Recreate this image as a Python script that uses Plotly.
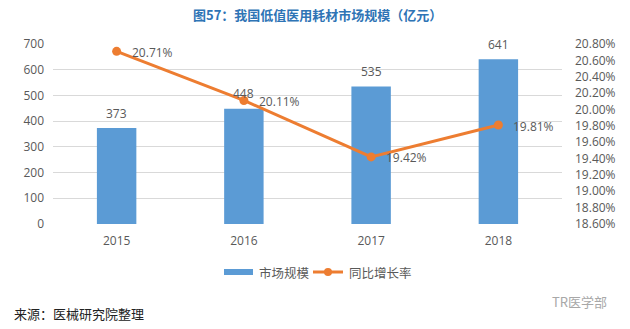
import plotly.graph_objects as go

years = ["2015", "2016", "2017", "2018"]
market_size = [373, 448, 535, 641]          # 亿元
growth_rate = [20.71, 20.11, 19.42, 19.81]  # %

left_ticks = [0, 100, 200, 300, 400, 500, 600, 700]
right_ticks = [18.6, 18.8, 19.0, 19.2, 19.4, 19.6, 19.8, 20.0, 20.2, 20.4, 20.6, 20.8]

BAR = "#5B9BD5"
LINE = "#ED7D31"
TXT = "#595959"
NUM_FONT = "Open Sans, Liberation Sans, sans-serif"
CJK_FONT = "Noto Sans CJK SC, sans-serif"

W, H = 630, 329
ML, MR, MT, MB = 53, 68, 44, 105
plot_w = W - ML - MR
plot_h = H - MT - MB


def px_to_paper(px, py):
    return (px - ML) / plot_w, (H - MB - py) / plot_h


xs = [int(y) for y in years]

fig = go.Figure()
fig.add_trace(go.Bar(
    x=xs, y=market_size, name="市场规模",
    marker=dict(color=BAR, line=dict(width=0)),
    width=0.31, yaxis="y",
))
fig.add_trace(go.Scatter(
    x=xs, y=growth_rate, name="同比增长率",
    mode="lines+markers",
    line=dict(color=LINE, width=3),
    marker=dict(color=LINE, size=9),
    yaxis="y2",
))

anns = []
for x, v in zip(xs, market_size):
    anns.append(dict(
        x=x, y=v, xref="x", yref="y", text=str(v), showarrow=False,
        yshift=15, font=dict(family=NUM_FONT, size=12, color=TXT),
    ))
for x, v in zip(xs, growth_rate):
    anns.append(dict(
        x=x, y=v, xref="x", yref="y2", text=f"{v:.2f}%", showarrow=False,
        xanchor="left", xshift=13, yshift=-1,
        font=dict(family=NUM_FONT, size=12, color=TXT),
    ))

# title
tx, ty = px_to_paper(317, 15)
anns.append(dict(x=tx, y=ty, xref="paper", yref="paper", xanchor="center", yanchor="middle",
                 text="<b>图57：我国低值医用耗材市场规模（亿元）</b>", showarrow=False,
                 font=dict(family=CJK_FONT, size=13, color="#2E74B5")))
# source note
sx, sy = px_to_paper(12, 313)
anns.append(dict(x=sx, y=sy, xref="paper", yref="paper", xanchor="left", yanchor="middle",
                 text="来源：医械研究院整理", showarrow=False,
                 font=dict(family=CJK_FONT, size=13, color="#222222")))
# watermark
wx, wy = px_to_paper(609, 301)
anns.append(dict(x=wx, y=wy, xref="paper", yref="paper", xanchor="right", yanchor="middle",
                 text="TR医学部", showarrow=False,
                 font=dict(family=CJK_FONT, size=13, color="#A8A8A8")))

# custom legend
shapes = []
x0, y0 = px_to_paper(224, 269)
x1, y1 = px_to_paper(253, 275)
shapes.append(dict(type="rect", xref="paper", yref="paper", x0=x0, x1=x1, y0=y0, y1=y1,
                   fillcolor=BAR, line=dict(width=0)))
lx0, ly = px_to_paper(313, 272)
lx1, _ = px_to_paper(343, 272)
shapes.append(dict(type="line", xref="paper", yref="paper", x0=lx0, x1=lx1, y0=ly, y1=ly,
                   line=dict(color=LINE, width=3)))
cx0, cy0 = px_to_paper(324, 268)
cx1, cy1 = px_to_paper(332, 276)
shapes.append(dict(type="circle", xref="paper", yref="paper", x0=cx0, x1=cx1, y0=cy0, y1=cy1,
                   fillcolor=LINE, line=dict(width=0)))
t1x, t1y = px_to_paper(257, 272)
anns.append(dict(x=t1x, y=t1y, xref="paper", yref="paper", xanchor="left", yanchor="middle",
                 text="市场规模", showarrow=False,
                 font=dict(family=CJK_FONT, size=12.5, color=TXT)))
t2x, t2y = px_to_paper(347, 272)
anns.append(dict(x=t2x, y=t2y, xref="paper", yref="paper", xanchor="left", yanchor="middle",
                 text="同比增长率", showarrow=False,
                 font=dict(family=CJK_FONT, size=12.5, color=TXT)))

fig.update_layout(
    width=W, height=H,
    margin=dict(l=ML, r=MR, t=MT, b=MB),
    paper_bgcolor="white", plot_bgcolor="white",
    showlegend=False,
    annotations=anns,
    shapes=shapes,
    xaxis=dict(
        range=[xs[0] - 0.5, xs[-1] + 0.5], tickvals=xs, ticktext=years,
        showgrid=False, showline=False, ticks="", zeroline=False,
        tickfont=dict(family=NUM_FONT, size=12, color=TXT),
        ticklabelstandoff=8,
    ),
    yaxis=dict(
        range=[0, 700], tickvals=left_ticks, showgrid=True,
        gridcolor="#D9D9D9", gridwidth=1, zeroline=False,
        tickfont=dict(family=NUM_FONT, size=12, color=TXT),
        ticks="", ticklabelstandoff=8,
    ),
    yaxis2=dict(
        overlaying="y", side="right", range=[18.6, 20.8],
        tickvals=right_ticks, ticktext=[f"{t:.2f}%" for t in right_ticks],
        showgrid=False, zeroline=False,
        tickfont=dict(family=NUM_FONT, size=12, color=TXT),
        ticks="", ticklabelstandoff=12,
    ),
)

fig.write_html("out.html")
